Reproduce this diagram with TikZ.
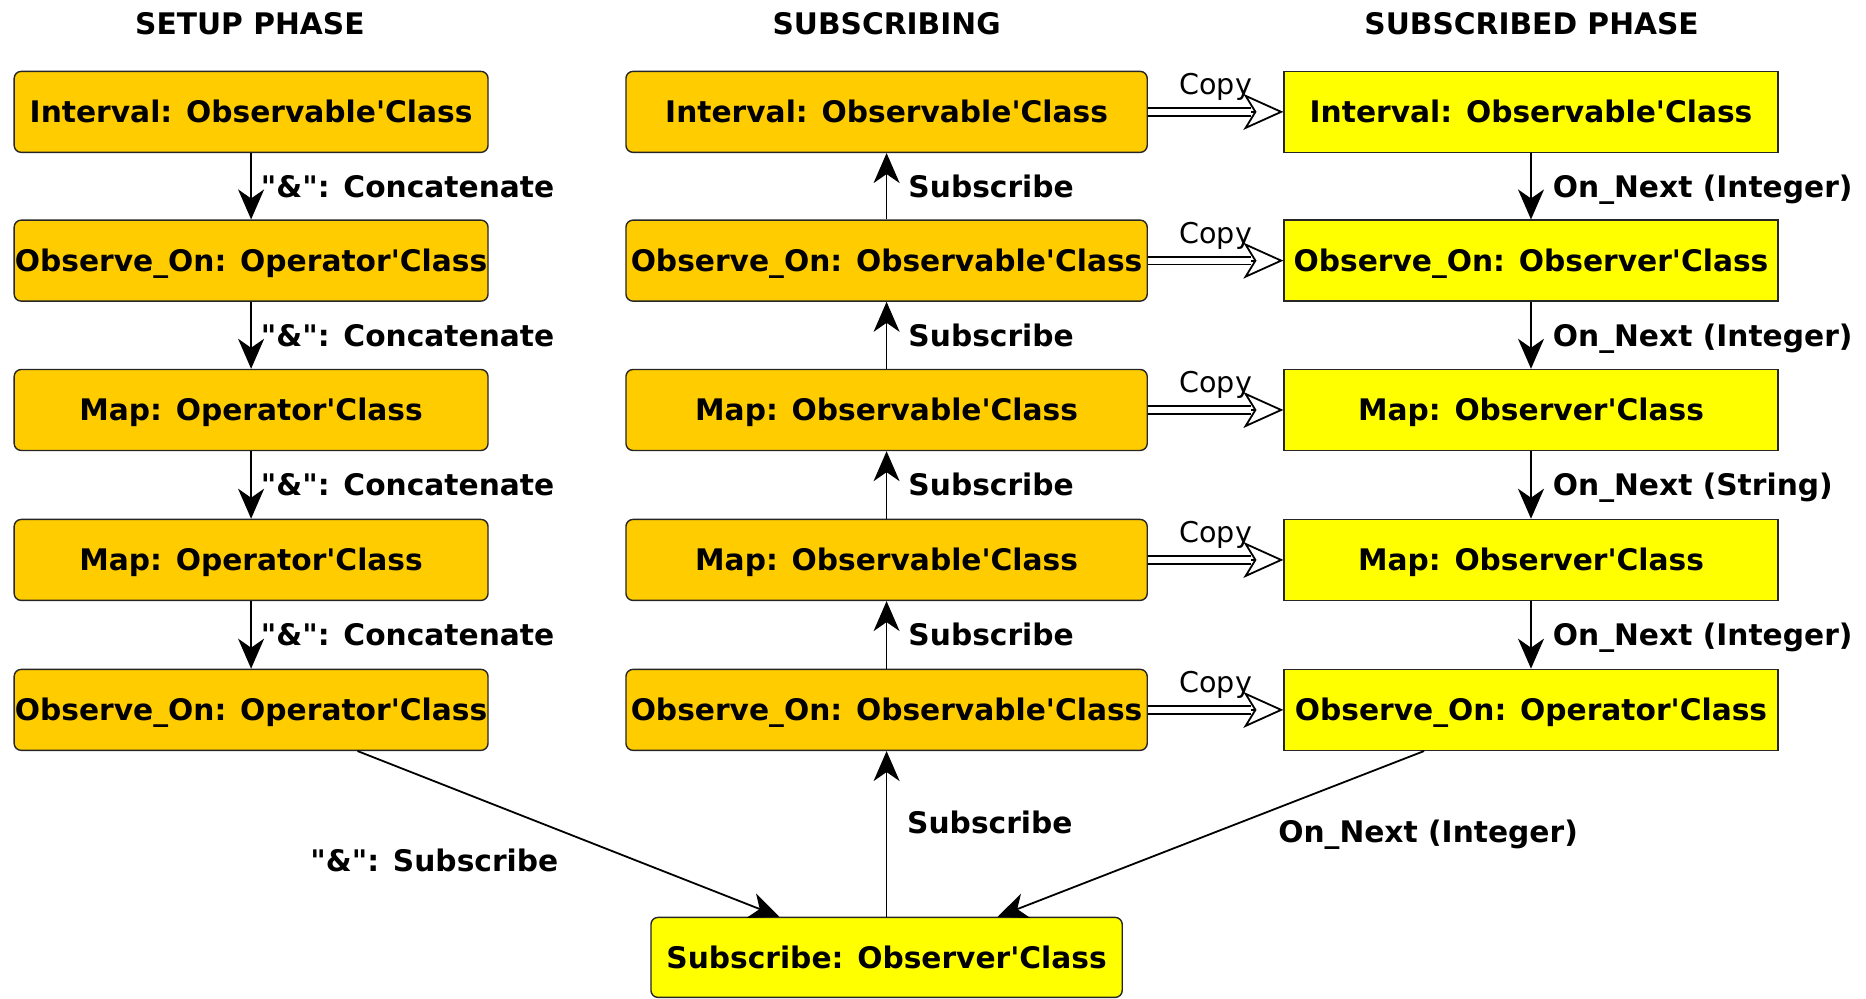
\documentclass[tikz,border=0pt]{standalone}
\usepackage{fontspec}
\setmainfont{DejaVu Sans}[Ligatures=TeXOff]
\usetikzlibrary{arrows.meta,calc}
\definecolor{amber}{RGB}{255,204,0}
\definecolor{lemon}{RGB}{255,255,0}
\begin{document}
\begin{tikzpicture}[x=0.5952pt,y=-0.5952pt,
  font=\fontsize{14.85}{17}\selectfont\bfseries,
  every node/.style={text height=11.3pt, text depth=0.5pt},
  box/.style={draw=black!85, line width=0.7pt, minimum height=40.5pt, inner sep=0pt, anchor=center},
  setupbox/.style={box, fill=amber, rounded corners=3.5pt, minimum width=237pt},
  subbox/.style={box, fill=amber, rounded corners=3.5pt, minimum width=260.7pt},
  livebox/.style={box, fill=lemon, minimum width=247pt},
  sinkbox/.style={box, fill=lemon, rounded corners=3.5pt, minimum width=235.7pt, minimum height=40pt},
  flow/.style={line width=0.9pt, -{Stealth[length=15pt,width=13pt,inset=4.5pt]}},
  lbl/.style={anchor=west, inner sep=0pt},
  copytip/.style={line width=0.9pt, -{Stealth[length=20pt,width=18pt,inset=5.5pt,fill=white]}},
  copyshaft/.style={double=white, draw=black, line width=0.9pt, double distance=3pt, shorten >=16pt},
  copylbl/.style={font=\fontsize{14.3}{17}\selectfont\mdseries, inner sep=0pt, yshift=14pt},
  title/.style={inner sep=0pt}
]
\useasboundingbox (0,0) rectangle (1568,839);

% column headings
\node[title] (t1) at (210,20) {SETUP PHASE};
\node[title] (t2) at (745,20) {SUBSCRIBING};
\node[title] (t3) at (1287,20) {SUBSCRIBED PHASE};

% setup phase
\node[setupbox] (a1) at (211,94)    {Interval: Observable'Class};
\node[setupbox] (a2) at (211,219)   {Observe\_On: Operator'Class};
\node[setupbox] (a3) at (211,344.5) {Map: Operator'Class};
\node[setupbox] (a4) at (211,470.5) {Map: Operator'Class};
\node[setupbox] (a5) at (211,596.5) {Observe\_On: Operator'Class};

% subscribing
\node[subbox] (b1) at (745,94)    {Interval: Observable'Class};
\node[subbox] (b2) at (745,219)   {Observe\_On: Observable'Class};
\node[subbox] (b3) at (745,344.5) {Map: Observable'Class};
\node[subbox] (b4) at (745,470.5) {Map: Observable'Class};
\node[subbox] (b5) at (745,596.5) {Observe\_On: Observable'Class};

% subscribed phase
\node[livebox] (c1) at (1286.5,94)    {Interval: Observable'Class};
\node[livebox] (c2) at (1286.5,219)   {Observe\_On: Observer'Class};
\node[livebox] (c3) at (1286.5,344.5) {Map: Observer'Class};
\node[livebox] (c4) at (1286.5,470.5) {Map: Observer'Class};
\node[livebox] (c5) at (1286.5,596.5) {Observe\_On: Operator'Class};

% final observer
\node[sinkbox] (s) at (745,804.5) {Subscribe: Observer'Class};

% setup chain
\foreach \p/\q/\n in {a1/a2/1, a2/a3/2, a3/a4/3, a4/a5/4}
  \draw[flow] (\p) -- node[lbl, midway, xshift=4.5pt] (la\n) {"\&": Concatenate} (\q);

% subscribe chain
\foreach \p/\q/\n in {b2/b1/1, b3/b2/2, b4/b3/3, b5/b4/4}
  \draw[flow] (\p) -- node[lbl, midway, xshift=10.5pt] (lb\n) {Subscribe} (\q);

% notifications
\draw[flow] (c1) -- node[lbl, midway, xshift=10.5pt] (lc1) {On\_Next (Integer)} (c2);
\draw[flow] (c2) -- node[lbl, midway, xshift=10.5pt] (lc2) {On\_Next (Integer)} (c3);
\draw[flow] (c3) -- node[lbl, midway, xshift=10.5pt] (lc3) {On\_Next (String)} (c4);
\draw[flow] (c4) -- node[lbl, midway, xshift=10.5pt] (lc4) {On\_Next (Integer)} (c5);

% copies: white-filled tip first, then the double shaft over its centre line
\foreach \p/\q/\n in {b1/c1/1, b2/c2/2, b3/c3/3, b4/c4/4, b5/c5/5} {
  \draw[copytip] (\p.east) -- (\q.west);
  \draw[copyshaft] (\p.east) -- node[copylbl, midway] (cp\n) {Copy} (\q.west);
}

% links to the final observer
\draw[flow] ($(a5.south west)!0.724!(a5.south east)$) -- ($(s.north west)!0.273!(s.north east)$);
\draw[flow] (s.north) -- (b5.south);
\draw[flow] ($(c5.south west)!0.284!(c5.south east)$) -- ($(s.north west)!0.735!(s.north east)$);

\node[inner sep=0pt] (ls1) at (365,723) {"\&": Subscribe};
\node[lbl] (ls2) at (762,691) {Subscribe};
\node[inner sep=0pt] (ls3) at (1200,699) {On\_Next (Integer)};
\end{tikzpicture}
\end{document}
